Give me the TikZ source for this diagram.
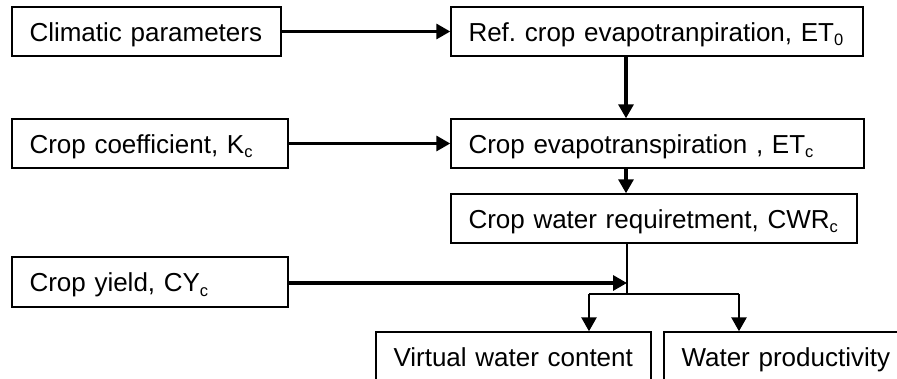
\documentclass[tikz,border=0pt]{standalone}
\usepackage{fontspec}
\setmainfont{Liberation Sans}
\usetikzlibrary{arrows.meta}
\frenchspacing
\newcommand{\sbs}[1]{\raisebox{-4.5pt}{\fontsize{16.5}{16.5}\selectfont #1}}
\begin{document}
\begin{tikzpicture}[x=1pt,y=1pt,
  box/.style={draw=black, line width=1.4pt, inner xsep=17.5pt, inner ysep=0pt,
    minimum height=49pt, text height=20pt, text depth=0pt, align=left,
    font=\fontsize{26}{28}\selectfont},
  arr/.style={line width=3.2pt, -{Triangle[length=14pt,width=15pt]}},
  darr/.style={line width=2.7pt, -{Triangle[length=14pt,width=15pt]}},
  thin1/.style={line width=1.3pt}]
\useasboundingbox (0,0) rectangle (897,-379);
\clip (0,0) rectangle (897,-379);
\node[box, text width=234pt] (clim) at (146.5,-31.5) {Climatic parameters};
\node[box, text width=241pt] (kc) at (150,-143.5) {Crop coefficient, K\sbs{c}};
\node[box, text width=241pt, minimum height=50pt] (cy) at (150,-282) {Crop yield, CY\sbs{c}};
\node[box, text width=377pt] (et0) at (657,-31.5) {\mbox{Ref. crop evapotranpiration, ET\sbs{0}}};
\node[box, text width=378pt] (etc) at (657.5,-143.5) {\mbox{Crop evapotranspiration , ET\sbs{c}}};
\node[box, text width=371pt] (cwr) at (654,-218.5) {\mbox{Crop water requiretment, CWR\sbs{c}}};
\node[box, text width=240pt] (vwc) at (513.5,-356.5) {Virtual water content};
\node[box, text width=240pt] (wp) at (801.5,-356.5) {Water productivity};
\coordinate (jy) at (627,-283);
\coordinate (jb) at (627,-294);
\coordinate (bl) at (589,-294);
\coordinate (br) at (739,-294);
\draw[arr] (clim.east) -- (et0.west);
\draw[arr] (kc.east) -- (etc.west);
\draw[arr] (et0.south -| 626,0) -- (etc.north -| 626,0);
\draw[arr] (etc.south -| 626,0) -- (cwr.north -| 626,0);
\draw[thin1] (cwr.south -| jb) -- (jb);
\draw[arr] (cy.east |- jy) -- (jy);
\draw[thin1] (bl) -- (br);
\draw[darr] (bl) -- (vwc.north -| bl);
\draw[darr] (br) -- (wp.north -| br);
\end{tikzpicture}
\end{document}
